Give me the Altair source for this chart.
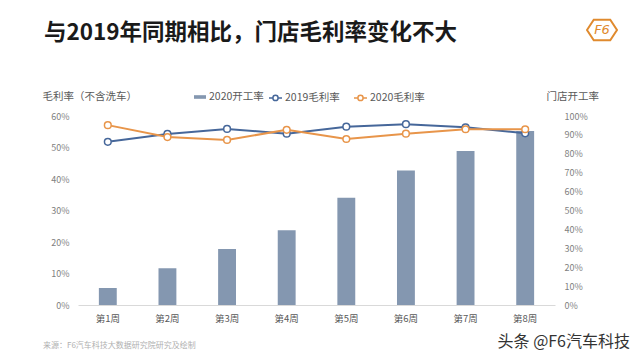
import altair as alt
import pandas as pd

FONT = "Noto Sans CJK SC"

weeks = ["第1周", "第2周", "第3周", "第4周", "第5周", "第6周", "第7周", "第8周"]
open_rate_2020 = [0.09, 0.195, 0.296, 0.396, 0.568, 0.711, 0.815, 0.921]
margin_2019 = [0.518, 0.543, 0.559, 0.544, 0.566, 0.574, 0.564, 0.545]
margin_2020 = [0.571, 0.533, 0.524, 0.556, 0.527, 0.544, 0.558, 0.558]
bar_name = "2020开工率"
line_names = ["2019毛利率", "2020毛利率"]
left_ticks = [0, 0.1, 0.2, 0.3, 0.4, 0.5, 0.6]
right_ticks = [0, 0.1, 0.2, 0.3, 0.4, 0.5, 0.6, 0.7, 0.8, 0.9, 1.0]

title_text = "与2019年同期相比，门店毛利率变化不大"
source_text = "来源：F6汽车科技大数据研究院研究及绘制"
brand_text = "头条 @F6汽车科技"

BAR_C = "#8497B0"
BLUE = "#46679A"
ORANGE = "#E8954A"

bars_df = pd.DataFrame({"week": weeks, "rate": open_rate_2020, "series": bar_name})
lines_df = pd.DataFrame({
    "week": weeks + weeks,
    "margin": margin_2019 + margin_2020,
    "series": [line_names[0]] * len(weeks) + [line_names[1]] * len(weeks),
})

x_enc = alt.X(
    "week:N", sort=weeks,
    scale=alt.Scale(paddingInner=0.7, paddingOuter=0.35),
    axis=alt.Axis(title=None, labelAngle=0, ticks=False, domainColor="#d9d9d9",
                  labelColor="#595959", labelFontSize=9.5, labelFont=FONT, labelPadding=8),
)

bars = alt.Chart(bars_df).mark_bar().encode(
    x=x_enc,
    y=alt.Y("rate:Q", scale=alt.Scale(domain=[0, 1]),
            axis=alt.Axis(orient="right", format=".0%", values=right_ticks, grid=False,
                          domain=False, ticks=False, labelPadding=9, labelFontSize=9,
                          labelColor="#7f7f7f", labelFont=FONT,
                          title="门店开工率", titleAngle=0, titleX=-9, titleY=-20,
                          titleAlign="left", titleBaseline="middle", titleFontSize=10.5,
                          titleFontWeight="normal", titleColor="#595959", titleFont=FONT)),
    fill=alt.Fill("series:N", scale=alt.Scale(domain=[bar_name], range=[BAR_C]),
                  legend=alt.Legend(title=None, orient="none", legendX=115, legendY=-26,
                                    symbolType="M-1,-0.3H1V0.3H-1Z", symbolSize=144,
                                    labelFontSize=10.5, labelColor="#595959", labelFont=FONT,
                                    labelOffset=2, padding=0)),
)

lines = alt.Chart(lines_df).mark_line(
    strokeWidth=2,
    point=alt.OverlayMarkDef(filled=False, fill="white", size=45, strokeWidth=1.5, opacity=1),
).encode(
    x=x_enc,
    y=alt.Y("margin:Q", scale=alt.Scale(domain=[0, 0.6]),
            axis=alt.Axis(orient="left", format=".0%", values=left_ticks, grid=False,
                          domain=False, ticks=False, labelPadding=9, labelFontSize=9,
                          labelColor="#7f7f7f", labelFont=FONT,
                          title="毛利率（不含洗车）", titleAngle=0, titleX=-36, titleY=-20,
                          titleAlign="left", titleBaseline="middle", titleFontSize=10.5,
                          titleFontWeight="normal", titleColor="#595959", titleFont=FONT)),
    stroke=alt.Stroke("series:N", scale=alt.Scale(domain=line_names, range=[BLUE, ORANGE]),
                      legend=alt.Legend(title=None, orient="none", legendX=190, legendY=-26,
                                        direction="horizontal", columnPadding=11,
                                        symbolType="M-1,0H-0.4M0.4,0H1M0.4,0A0.4,0.4 0 1 1 -0.4,0A0.4,0.4 0 1 1 0.4,0",
                                        symbolSize=169, symbolStrokeWidth=1.5,
                                        symbolFillColor="white",
                                        labelFontSize=10.5, labelColor="#595959", labelFont=FONT,
                                        labelOffset=2, padding=0)),
)

title = alt.Chart(pd.DataFrame({"t": [title_text]})).mark_text(
    align="left", baseline="middle", fontSize=22.5, fontWeight="bold", font=FONT, color="#1a1a1a"
).encode(x=alt.value(-34), y=alt.value(-83.5), text="t:N")

source = alt.Chart(pd.DataFrame({"t": [source_text]})).mark_text(
    align="left", baseline="middle", fontSize=8, font=FONT, color="#b0b0b0"
).encode(x=alt.value(-35), y=alt.value(230), text="t:N")

brand = alt.Chart(pd.DataFrame({"t": [brand_text]})).mark_text(
    align="right", baseline="middle", fontSize=16, font=FONT, color="#333333"
).encode(x=alt.value(552), y=alt.value(226), text="t:N")

logo_hex = alt.Chart(pd.DataFrame({"t": ["F6"]})).mark_point(
    shape="M-1,0L-0.55,-0.68L0.55,-0.68L1,0L0.55,0.68L-0.55,0.68Z",
    size=900, filled=False, stroke="#E08A2E", strokeWidth=2, opacity=1
).encode(x=alt.value(524), y=alt.value(-86))

logo_txt = alt.Chart(pd.DataFrame({"t": ["F6"]})).mark_text(
    align="center", baseline="middle", fontSize=13, fontStyle="italic", font="DejaVu Sans",
    color="#E08A2E"
).encode(x=alt.value(524), y=alt.value(-86), text="t:N")

chart = alt.layer(bars, lines, title, source, brand, logo_hex, logo_txt).resolve_scale(
    y="independent"
).properties(
    width=477, height=189,
    autosize=alt.AutoSizeParams(type="none"),
    padding={"left": 70, "top": 108, "right": 77, "bottom": 47},
    background="white",
).configure_view(stroke=None)

chart.save("out.html", embed_options={"renderer": "svg", "actions": False})
